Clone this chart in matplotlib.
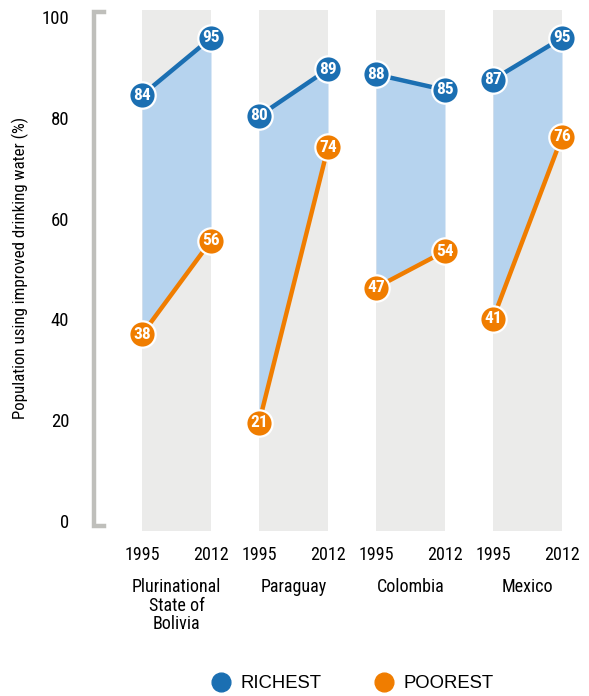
import numpy as np
from matplotlib import pyplot as plt
from matplotlib.lines import Line2D

countries = ['Plurinational\nState of\nBolivia', 'Paraguay', 'Colombia', 'Mexico']
years = ['1995', '2012']
richest = [[84, 95], [80, 89], [88, 85], [87, 95]]
poorest = [[38, 56], [21, 74], [47, 54], [41, 76]]
yticks = [0, 20, 40, 60, 80, 100]

BLUE = '#1b6fb2'
ORANGE = '#f07d00'
FILL = '#b6d3ee'
GRAY_BG = '#ebebea'
BRACKET = '#bfbfbb'

plt.rcParams['font.family'] = ['Roboto Condensed', 'DejaVu Sans']

fig = plt.figure(figsize=(5.89, 6.96), dpi=100)
# axes placed in pixel units of the figure
W, H = 589, 696
ax_top, ax_bot = 8, 540
ax = fig.add_axes([90 / W, 1 - ax_bot / H, (575 - 90) / W, (ax_bot - ax_top) / H])

px_per_unit = 5.2          # data: 100 -> y=12px, 0 -> y=532px
ax.set_ylim(-(ax_bot - 532) / px_per_unit, 100 + (12 - ax_top) / px_per_unit)
ax.set_xlim(90, 575)

group_step = 117
pair_gap = 69
first_x = 142
band_top, band_bot = 100 + 2 / px_per_unit, -(531 - 532) / px_per_unit

for i, name in enumerate(countries):
    xs = np.array([first_x + i * group_step, first_x + i * group_step + pair_gap])
    ax.fill_between(xs, band_bot, band_top, color=GRAY_BG, lw=0, zorder=0)
    ax.fill_between(xs, poorest[i], richest[i], color=FILL, lw=0, zorder=1)
    for vals, col in ((richest[i], BLUE), (poorest[i], ORANGE)):
        ax.plot(xs, vals, color=col, lw=3.2, zorder=2, solid_capstyle='round')
        ax.plot(xs, vals, 'o', ms=19, color=col, mec='white', mew=1.6, zorder=3)
        for x, v in zip(xs, vals):
            ax.text(x, v, str(v), color='white', ha='center', va='center',
                    fontsize=12.5, fontweight='bold', zorder=4)
    for x, yr in zip(xs, years):
        ax.text(x, -0.012, yr, transform=ax.get_xaxis_transform(), ha='center', va='top',
                fontsize=13, clip_on=False)
    ax.text(xs.mean(), -0.072, name, transform=ax.get_xaxis_transform(), ha='center', va='top',
            fontsize=13, linespacing=1.02, clip_on=False)

# bracket axis
top_v, bot_v = 100, -(526 - 532) / px_per_unit
ax.plot([104, 94, 94, 104], [top_v, top_v, bot_v, bot_v], color=BRACKET, lw=3.2,
        clip_on=False, solid_joinstyle='miter', zorder=1)

# the source prints its tick labels on a slightly tighter spacing than the data (0 at 521px, 100 at 17px)
tick_pos = [(532 - (521 - 5.04 * t)) / px_per_unit for t in yticks]
ax.set_yticks(tick_pos)
ax.set_yticklabels([str(t) for t in yticks], fontsize=13.5)
ax.tick_params(axis='y', length=0, pad=15)
ax.set_xticks([])
for s in ax.spines.values():
    s.set_visible(False)

fig.text(20 / W, 1 - 268 / H, 'Population using improved drinking water (%)', rotation=90,
         ha='center', va='center', fontsize=12.2)

handles = [Line2D([], [], marker='o', ls='', ms=13.5, color=BLUE, label='RICHEST'),
           Line2D([], [], marker='o', ls='', ms=13.5, color=ORANGE, label='POOREST')]
fig.legend(handles=handles, loc='center', bbox_to_anchor=(352 / W, 1 - 684 / H), ncol=2,
           frameon=False, handlelength=1.2, handletextpad=0.45, columnspacing=2.8,
           prop={'family': ['Liberation Sans', 'DejaVu Sans'], 'size': 13.3})

fig.savefig('out.png', dpi=100)
